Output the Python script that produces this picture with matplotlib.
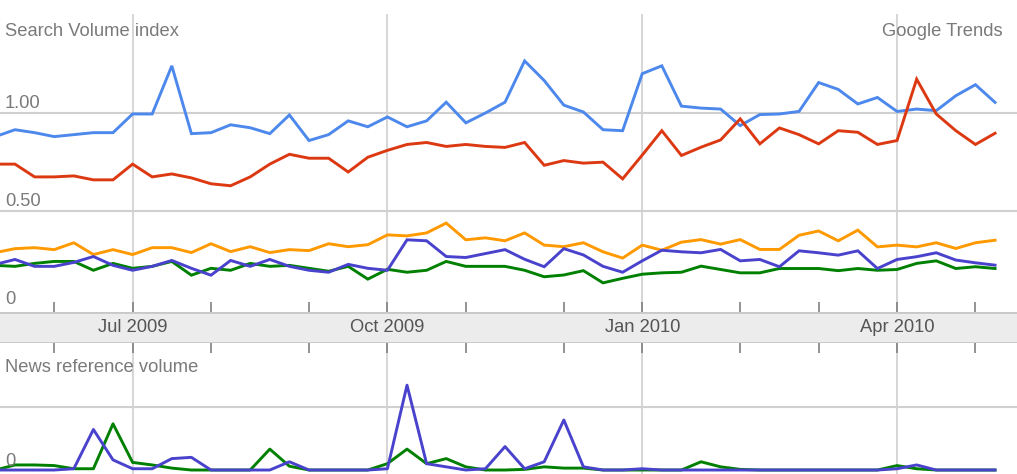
import matplotlib
matplotlib.use('Agg')
import matplotlib.pyplot as plt

plt.rcParams['font.family'] = ['Liberation Sans', 'DejaVu Sans']

# ---------------- data (weekly points, index 0..51) ----------------
weeks = list(range(52))

search_blue = [0.88, 0.915, 0.90, 0.88, 0.89, 0.90, 0.90, 0.995, 0.995, 1.24,
               0.895, 0.90, 0.94, 0.925, 0.895, 0.99, 0.86, 0.89, 0.96, 0.93,
               0.98, 0.93, 0.96, 1.055, 0.95, 1.00, 1.055, 1.265, 1.165, 1.04,
               1.005, 0.915, 0.91, 1.20, 1.24, 1.035, 1.025, 1.02, 0.936, 0.992,
               0.995, 1.008, 1.155, 1.12, 1.046, 1.079, 1.008, 1.02, 1.012, 1.088,
               1.144, 1.054]
search_red = [0.74, 0.74, 0.675, 0.675, 0.68, 0.66, 0.66, 0.74, 0.675, 0.69,
              0.67, 0.64, 0.63, 0.675, 0.74, 0.79, 0.77, 0.77, 0.70, 0.775,
              0.81, 0.84, 0.85, 0.83, 0.84, 0.83, 0.825, 0.85, 0.734, 0.758,
              0.745, 0.75, 0.665, 0.786, 0.91, 0.784, 0.826, 0.863, 0.97, 0.843,
              0.924, 0.89, 0.843, 0.91, 0.902, 0.84, 0.86, 1.172, 0.995, 0.91,
              0.84, 0.897]
search_orange = [0.29, 0.31, 0.315, 0.305, 0.34, 0.28, 0.305, 0.28, 0.315, 0.315,
                 0.29, 0.335, 0.295, 0.32, 0.29, 0.305, 0.30, 0.335, 0.32, 0.33,
                 0.38, 0.375, 0.39, 0.44, 0.355, 0.365, 0.35, 0.39, 0.328, 0.32,
                 0.34, 0.294, 0.262, 0.328, 0.302, 0.343, 0.356, 0.333, 0.356, 0.306,
                 0.306, 0.378, 0.40, 0.35, 0.404, 0.319, 0.328, 0.319, 0.34, 0.311,
                 0.34, 0.353]
search_green = [0.225, 0.22, 0.235, 0.245, 0.245, 0.20, 0.235, 0.21, 0.22, 0.245,
                0.175, 0.21, 0.20, 0.235, 0.22, 0.225, 0.21, 0.195, 0.22, 0.155,
                0.205, 0.19, 0.20, 0.245, 0.22, 0.22, 0.22, 0.20, 0.167, 0.176,
                0.198, 0.136, 0.159, 0.18, 0.187, 0.19, 0.221, 0.204, 0.187, 0.187,
                0.209, 0.209, 0.209, 0.198, 0.209, 0.20, 0.204, 0.235, 0.248, 0.209,
                0.218, 0.209]
search_purple = [0.23, 0.255, 0.22, 0.22, 0.24, 0.27, 0.225, 0.20, 0.22, 0.25,
                 0.21, 0.175, 0.25, 0.22, 0.255, 0.22, 0.20, 0.19, 0.23, 0.21,
                 0.20, 0.355, 0.35, 0.27, 0.265, 0.285, 0.305, 0.256, 0.218, 0.31,
                 0.278, 0.22, 0.19, 0.248, 0.302, 0.294, 0.289, 0.306, 0.248, 0.255,
                 0.218, 0.299, 0.289, 0.277, 0.299, 0.209, 0.255, 0.269, 0.289, 0.252,
                 0.238, 0.226]

news_purple = [0, 0, 0, 0, 0.02, 0.64, 0.16, 0.02, 0.02, 0.18,
               0.2, 0, 0, 0, 0, 0.13, 0, 0, 0, 0,
               0.02, 1.34, 0.1, 0.05, 0, 0.02, 0.37, 0.02, 0.13, 0.79,
               0.05, 0, 0, 0.02, 0, 0, 0, 0, 0, 0,
               0, 0, 0, 0, 0, 0, 0.02, 0.08, 0, 0,
               0, 0]
news_green = [0, 0.08, 0.08, 0.07, 0.02, 0.02, 0.73, 0.12, 0.08, 0.03,
              0, 0, 0, 0, 0.33, 0.06, 0, 0, 0, 0,
              0.1, 0.33, 0.1, 0.18, 0.05, 0, 0, 0.01, 0.05, 0.03,
              0.03, 0, 0, 0, 0, 0, 0.13, 0.05, 0.01, 0,
              0, 0, 0, 0, 0, 0, 0.07, 0.02, 0, 0,
              0, 0]

month_ticks = [3, 7, 11, 16, 20, 24, 29, 33, 38, 42, 46, 50]
quarter_pos = [7, 20, 33, 46]
quarter_labels = ['Jul 2009', 'Oct 2009', 'Jan 2010', 'Apr 2010']
search_grid = [0.5, 1.0]
search_grid_labels = ['0', '0.50', '1.00']
news_grid = [1.0]

# ---------------- styling ----------------
C_BLUE, C_RED, C_ORANGE, C_GREEN, C_PURPLE = '#4d88ec', '#dc3912', '#ff9900', '#008000', '#4942cc'
GRID = '#d0d0d0'
TXT = '#7a7a7a'
FS = 13.2
LW = 2.1

W, H = 1017, 474
fig = plt.figure(figsize=(W / 100, H / 100), dpi=100)
ax1 = fig.add_axes([0, (H - 311.7) / H, 1, (311.7 - 14) / H])
band = fig.add_axes([0, (H - 343) / H, 1, (343 - 311.7) / H])
ax2 = fig.add_axes([0, 0, 1, (H - 343) / H])

xlim = (0.235, 52.12)
for ax in (ax1, band, ax2):
    ax.set_xlim(*xlim)
    for s in ax.spines.values():
        s.set_visible(False)

# top panel
ax1.set_ylim(-0.0107, 1.5036)
for q in quarter_pos:
    ax1.axvline(q, color=GRID, lw=1.2, zorder=1)
for g in search_grid:
    ax1.axhline(g, color=GRID, lw=1.5, zorder=1)
for series, col in [(search_blue, C_BLUE), (search_red, C_RED), (search_orange, C_ORANGE),
                    (search_green, C_GREEN), (search_purple, C_PURPLE)]:
    ax1.plot(weeks, series, color=col, lw=LW, solid_joinstyle='miter', zorder=3)
ax1.set_xticks(month_ticks)
ax1.set_xticklabels([])
ax1.set_yticks([])
ax1.tick_params(axis='x', direction='in', length=7.5, width=1.2, color='#808080')
ytr = ax1.get_yaxis_transform()
for val, lab in zip([0] + search_grid, search_grid_labels):
    ax1.annotate(lab, xy=(0, val), xycoords=ytr, xytext=(3.6, 3.8), textcoords='offset points',
                 ha='left', va='baseline', fontsize=FS, color=TXT)
ax1.text(5 / W, 1 - 18 / (311.7 - 14), 'Search Volume index', transform=ax1.transAxes,
         ha='left', va='center', fontsize=FS, color=TXT)
ax1.text(1003 / W, 1 - 18 / (311.7 - 14), 'Google Trends', transform=ax1.transAxes,
         ha='right', va='center', fontsize=FS, color=TXT)

# band with quarter labels
band.set_facecolor('#ececec')
band.set_ylim(0, 1)
band.set_xticks([])
band.set_yticks([])
band.axhline(1, color='#c8c8c8', lw=2)
band.axhline(0, color='#c8c8c8', lw=2)
for q, lab in zip(quarter_pos, quarter_labels):
    band.text(q, 0.5, lab, ha='center', va='center', fontsize=FS, color='#555555')

# bottom panel
ax2.set_ylim(-0.063, 2.006)
for q in quarter_pos:
    ax2.axvline(q, color=GRID, lw=1.2, zorder=1)
for g in news_grid:
    ax2.axhline(g, color=GRID, lw=1.5, zorder=1)
ax2.plot(weeks, news_green, color=C_GREEN, lw=LW, zorder=3)
ax2.plot(weeks, news_purple, color=C_PURPLE, lw=LW, zorder=4)
ax2.xaxis.set_ticks_position('top')
ax2.set_xticks(month_ticks)
ax2.set_xticklabels([])
ax2.set_yticks([])
ax2.tick_params(axis='x', direction='in', length=7.5, width=1.2, color='#808080')
ytr2 = ax2.get_yaxis_transform()
ax2.annotate('0', xy=(0, 0), xycoords=ytr2, xytext=(3.6, 2.8), textcoords='offset points',
             ha='left', va='baseline', fontsize=FS, color=TXT)
ax2.text(5 / W, 1 - 25 / (H - 343), 'News reference volume', transform=ax2.transAxes,
         ha='left', va='center', fontsize=FS, color=TXT)

fig.savefig('out.png', dpi=100)
